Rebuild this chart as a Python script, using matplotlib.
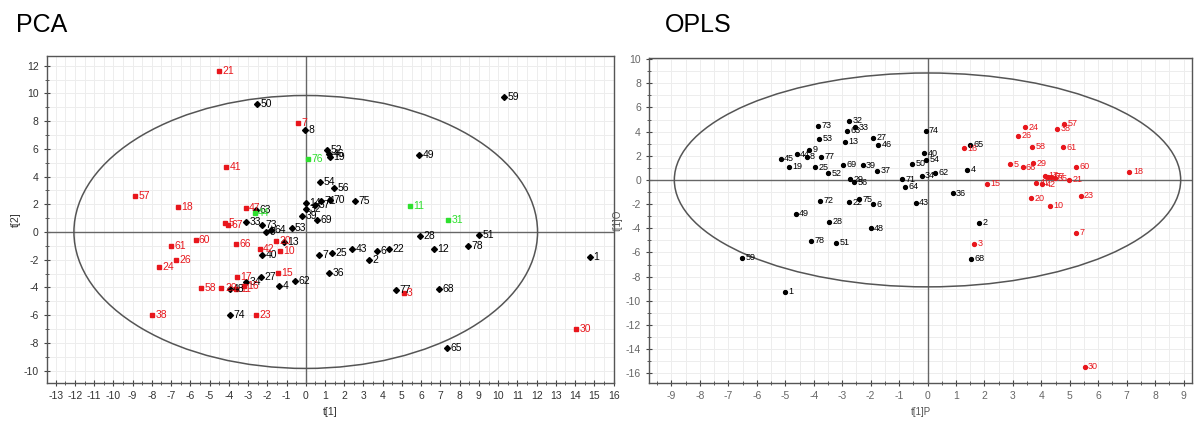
import numpy as np
import matplotlib.pyplot as plt
from matplotlib.patches import Ellipse
from matplotlib.ticker import MultipleLocator

plt.rcParams['font.family'] = ['Liberation Sans', 'DejaVu Sans']
plt.rcParams['axes.unicode_minus'] = False

# ---- PCA scores (t[1], t[2]) ----
pca_black_lbl = ['50', '8', '59', '52', '46', '19', '49', '54', '56', '70', '71', '75',
                 '14', '32', '37', '39', '69', '63', '33', '73', '64', '9', '53', '28',
                 '51', '13', '40', '7', '25', '43', '6', '22', '2', '12', '78', '1',
                 '36', '27', '34', '62', '4', '48', '74', '77', '68', '65']
pca_black_x = [-2.51, -0.02, 10.29, 1.13, 1.20, 1.25, 5.89, 0.73, 1.47, 1.25, 0.81, 2.55,
               0.00, 0.03, 0.47, -0.17, 0.59, -2.60, -3.12, -2.30, -1.83, -2.09, -0.74, 5.92,
               9.00, -1.14, -2.27, 0.69, 1.37, 2.41, 3.72, 4.31, 3.29, 6.67, 8.43, 14.75,
               1.21, -2.35, -3.12, -0.57, -1.39, -3.95, -3.95, 4.68, 6.92, 7.36]
pca_black_y = [9.23, 7.34, 9.76, 5.92, 5.65, 5.40, 5.56, 3.60, 3.14, 2.32, 2.25, 2.20,
               2.08, 1.65, 1.96, 1.12, 0.84, 1.60, 0.69, 0.53, 0.17, -0.03, 0.29, -0.30,
               -0.20, -0.75, -1.63, -1.63, -1.51, -1.20, -1.40, -1.20, -1.99, -1.20, -1.03, -1.80,
               -2.95, -3.24, -3.60, -3.55, -3.91, -4.15, -6.02, -4.22, -4.15, -8.35]

pca_red_lbl = ['21', '7', '41', '57', '18', '47', '5', '67', '61', '60', '66', '20', '42',
               '10', '26', '24', '17', '15', '16', '58', '29', '11', '23', '38', '3', '30']
pca_red_x = [-4.50, -0.40, -4.12, -8.88, -6.63, -3.12, -4.19, -4.03, -6.98, -5.73, -3.64, -1.56, -2.39,
             -1.35, -6.77, -7.62, -3.57, -1.44, -3.20, -5.42, -4.38, -3.60, -2.61, -8.00, 5.09, 14.06]
pca_red_y = [11.60, 7.84, 4.72, 2.61, 1.80, 1.73, 0.65, 0.53, -0.99, -0.60, -0.86, -0.68, -1.22,
             -1.35, -1.99, -2.54, -3.24, -2.95, -3.90, -4.08, -4.08, -4.15, -6.02, -6.02, -4.44, -7.03]

pca_green_lbl = ['76', '11', '31', '44']
pca_green_x = [0.12, 5.40, 7.39, -2.65]
pca_green_y = [5.27, 1.84, 0.84, 1.37]

# ---- OPLS scores (t[1]P, t[1]O) ----
opls_black_lbl = ['73', '32', '33', '63', '53', '13', '27', '46', '9', '44', '8', '77', '45',
                  '19', '25', '52', '69', '39', '37', '29', '56', '72', '22', '75', '6', '49',
                  '28', '48', '78', '51', '59', '1', '74', '40', '54', '50', '34', '71', '64',
                  '62', '4', '65', '36', '43', '2', '68']
opls_black_x = [-3.86, -2.75, -2.55, -2.82, -3.82, -2.90, -1.91, -1.73, -4.17, -4.60, -4.25, -3.75, -5.16,
                -4.86, -3.96, -3.49, -2.96, -2.28, -1.76, -2.73, -2.58, -3.77, -2.75, -2.40, -1.93, -4.63,
                -3.47, -2.00, -4.10, -3.20, -6.51, -5.01, -0.07, -0.12, -0.04, -0.54, -0.21, -0.88, -0.80,
                0.26, 1.39, 1.51, 0.88, -0.42, 1.81, 1.54]
opls_black_y = [4.47, 4.88, 4.36, 4.08, 3.39, 3.17, 3.50, 2.90, 2.48, 2.12, 1.93, 1.93, 1.74,
                1.10, 1.05, 0.55, 1.24, 1.21, 0.75, 0.06, -0.19, -1.71, -1.85, -1.60, -2.01, -2.81,
                -3.45, -4.00, -5.02, -5.19, -6.43, -9.24, 4.06, 2.21, 1.66, 1.32, 0.36, 0.06, -0.55,
                0.61, 0.83, 2.90, -1.10, -1.88, -3.53, -6.54]

opls_red_lbl = ['16', '15', '24', '57', '38', '26', '58', '61', '5', '66', '29', '60', '18',
                '17', '47', '67', '35', '21', '41', '42', '20', '10', '23', '7', '3', '30']
opls_red_x = [1.29, 2.09, 3.44, 4.80, 4.56, 3.18, 3.68, 4.76, 2.89, 3.34, 3.71, 5.23, 7.10,
              4.12, 4.24, 4.35, 4.47, 4.97, 3.83, 4.02, 3.65, 4.29, 5.38, 5.22, 1.64, 5.52]
opls_red_y = [2.62, -0.33, 4.36, 4.64, 4.22, 3.64, 2.76, 2.70, 1.30, 1.05, 1.38, 1.10, 0.69,
              0.33, 0.27, 0.27, 0.14, 0.00, -0.22, -0.36, -1.52, -2.12, -1.32, -4.36, -5.30, -15.45]

RED = '#e8161c'
GREEN = '#2ee02e'


def style_axes(ax, xlim, ylim, xmaj, xmin, ymaj, ymin, tick_color):
    ax.set_xlim(*xlim)
    ax.set_ylim(*ylim)
    ax.xaxis.set_major_locator(MultipleLocator(xmaj))
    ax.xaxis.set_minor_locator(MultipleLocator(xmin))
    ax.yaxis.set_major_locator(MultipleLocator(ymaj))
    ax.yaxis.set_minor_locator(MultipleLocator(ymin))
    ax.grid(True, which='both', color='#ededed', lw=0.7, zorder=0)
    ax.set_axisbelow(True)
    ax.tick_params(which='major', direction='inout', length=5, width=0.8,
                   labelsize=7.5, colors='#444', labelcolor=tick_color)
    ax.tick_params(which='minor', direction='inout', length=3, width=0.6, colors='#444')
    for s in ax.spines.values():
        s.set_color('#555')
        s.set_linewidth(1.0)
    ax.axhline(0, color='#666', lw=1.0, zorder=1)
    ax.axvline(0, color='#666', lw=1.0, zorder=1)


def scatter_labels(ax, xs, ys, labels, color, marker, ms, fs):
    ax.plot(xs, ys, ls='none', marker=marker, color=color, ms=ms, zorder=3)
    for x, y, t in zip(xs, ys, labels):
        ax.annotate(t, (x, y), xytext=(2.5, 0), textcoords='offset points',
                    va='center', ha='left', fontsize=fs, color=color, zorder=4)


fig = plt.figure(figsize=(11.96, 4.23), dpi=100)

# PCA panel
ax1 = fig.add_axes([0.0393, 0.0946, 0.4737, 0.773])
style_axes(ax1, (-13.45, 16.0), (-10.9, 12.7), 1, 0.5, 2, 1, '#333')
ax1.add_patch(Ellipse((0, 0), 2 * 12.05, 2 * 9.85, fill=False, ec='#555', lw=1.1, zorder=2))
scatter_labels(ax1, pca_black_x, pca_black_y, pca_black_lbl, 'black', 'D', 3.0, 7.5)
scatter_labels(ax1, pca_red_x, pca_red_y, pca_red_lbl, RED, 's', 3.0, 7.5)
scatter_labels(ax1, pca_green_x, pca_green_y, pca_green_lbl, GREEN, 's', 3.0, 7.5)
ax1.set_xlabel('t[1]', fontsize=7.5, color='#333', labelpad=4)
ax1.set_ylabel('t[2]', fontsize=7.5, color='#333', labelpad=2)

# OPLS panel
ax2 = fig.add_axes([0.5429, 0.0953, 0.4538, 0.767])
style_axes(ax2, (-9.78, 9.3), (-16.78, 10.07), 1, 0.5, 2, 1, '#666')
ax2.add_patch(Ellipse((0, 0), 2 * 8.9, 2 * 8.85, fill=False, ec='#555', lw=1.1, zorder=2))
scatter_labels(ax2, opls_black_x, opls_black_y, opls_black_lbl, 'black', 'o', 2.8, 6.5)
scatter_labels(ax2, opls_red_x, opls_red_y, opls_red_lbl, RED, 'o', 2.8, 6.5)
ax2.set_xlabel('t[1]P', fontsize=7, color='#555', labelpad=4)
ax2.set_ylabel('t[1]O', fontsize=7, color='#555', labelpad=2)

fig.text(0.013, 0.94, 'PCA', fontsize=18, va='center', ha='left')
fig.text(0.556, 0.94, 'OPLS', fontsize=18, va='center', ha='left')

fig.savefig('out.png', dpi=100)
